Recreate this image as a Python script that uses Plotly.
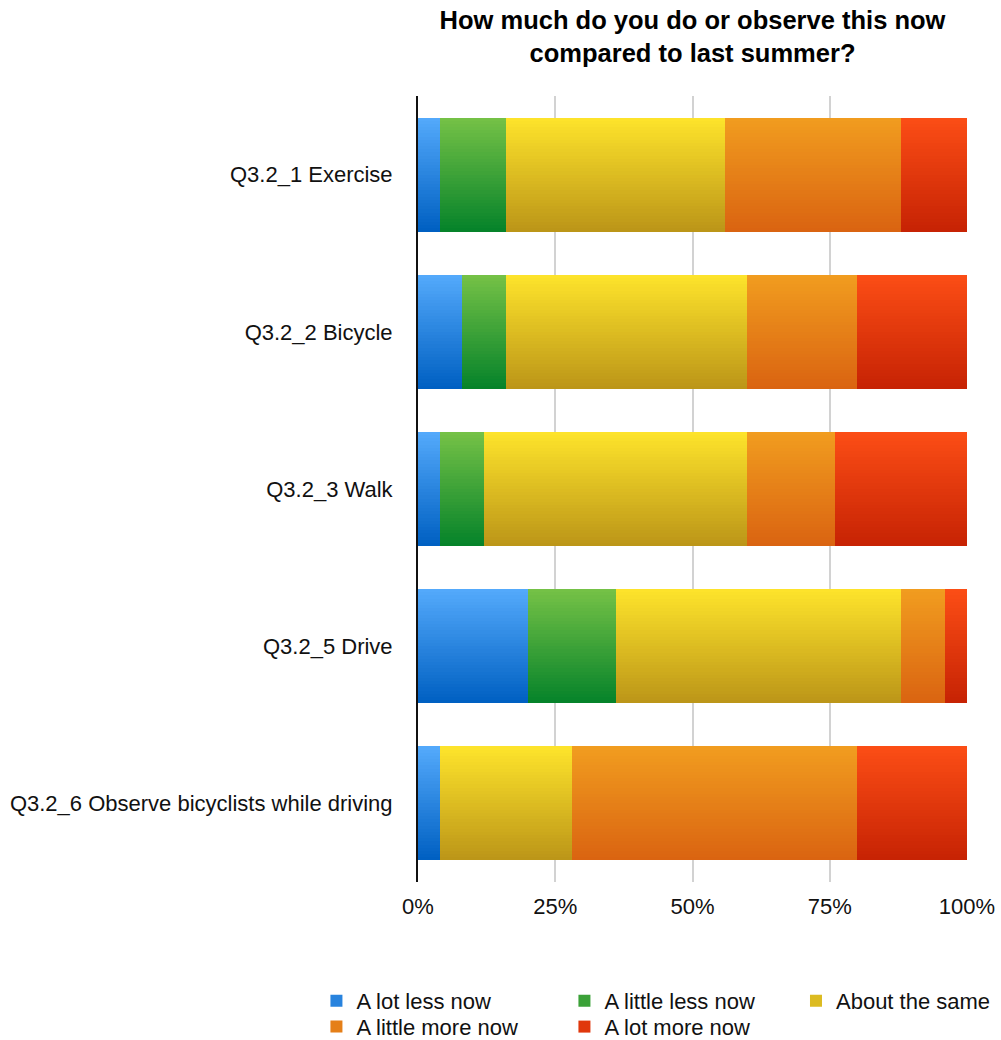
import numpy as np
import plotly.graph_objects as go

# Survey items and response shares (percent of respondents)
categories = [
    "Q3.2_1 Exercise",
    "Q3.2_2 Bicycle",
    "Q3.2_3 Walk",
    "Q3.2_5 Drive",
    "Q3.2_6 Observe bicyclists while driving",
]
series_names = [
    "A lot less now",
    "A little less now",
    "About the same",
    "A little more now",
    "A lot more now",
]
a_lot_less = [4, 8, 4, 20, 4]
a_little_less = [12, 8, 8, 16, 0]
about_same = [40, 44, 48, 52, 24]
a_little_more = [32, 20, 16, 8, 52]
a_lot_more = [12, 20, 24, 4, 20]

x_tick_values = [0, 25, 50, 75, 100]
x_tick_labels = ["0%", "25%", "50%", "75%", "100%"]

# Vertical gradient per series: (top colour, bottom colour)
gradients = [
    ("#53a9fb", "#0060c2"),
    ("#74c146", "#06832a"),
    ("#fde32b", "#bc9618"),
    ("#f19c1f", "#da6411"),
    ("#fb4d15", "#c72304"),
]

# Legend layout: two columns on two rows, plus a third column holding one entry
legend_of_series = ["legend", "legend", "legend3", "legend2", "legend2"]

FONT = "Liberation Sans, Arial, Helvetica, sans-serif"
BAR_W = 0.726   # bar thickness in category units
N_BANDS = 36    # number of colour bands used to shade each bar


def hex_to_rgb(h):
    h = h.lstrip("#")
    return np.array([int(h[i:i + 2], 16) for i in (0, 2, 4)], dtype=float)


def mix(c0, c1, t):
    c = hex_to_rgb(c0) * (1 - t) + hex_to_rgb(c1) * t
    return "rgb(%d,%d,%d)" % tuple(np.round(c).astype(int))


values = np.array([a_lot_less, a_little_less, about_same, a_little_more, a_lot_more], dtype=float)
bases = np.vstack([np.zeros(len(categories)), np.cumsum(values, axis=0)[:-1]])

fig = go.Figure()
for s, name in enumerate(series_names):
    top, bottom = gradients[s]
    for k in range(N_BANDS):
        t = k / (N_BANDS - 1)
        step = BAR_W / N_BANDS
        legend_band = k == N_BANDS // 2
        fig.add_trace(go.Bar(
            y=categories,
            x=values[s],
            base=bases[s],
            orientation="h",
            offset=-BAR_W / 2 + k * step,
            width=BAR_W - k * step,
            marker=dict(color=mix(top, bottom, t), line=dict(width=0)),
            name=name,
            legendgroup=name,
            showlegend=legend_band,
            legend=legend_of_series[s],
            hoverinfo="skip",
        ))

legend_font = dict(family=FONT, size=22, color="#111111")
legend_common = dict(
    orientation="h",
    xref="paper", yref="paper",
    xanchor="left", yanchor="top",
    font=legend_font,
    bgcolor="rgba(0,0,0,0)",
    traceorder="normal",
    itemclick=False,
)
ROW1_Y = -0.1245
ROW2_Y = -0.1575

fig.update_layout(
    width=1001,
    height=1040,
    margin=dict(l=418, r=34, t=96, b=158, autoexpand=False),
    paper_bgcolor="white",
    plot_bgcolor="white",
    barmode="overlay",
    bargap=0,
    font=dict(family=FONT, size=22, color="#111111"),
    title=dict(
        text="How much do you do or observe this now<br>compared to last summer?",
        font=dict(family=FONT, size=25.5, color="#000000", weight="bold"),
        xref="paper", x=0.5, xanchor="center",
        yref="container", y=0.9725, yanchor="top",
    ),
    xaxis=dict(
        range=[0, 100],
        tickvals=x_tick_values,
        ticktext=x_tick_labels,
        showgrid=True,
        gridcolor="#d2d2d2",
        gridwidth=1.5,
        zeroline=False,
        showline=False,
        ticks="",
        ticklabelstandoff=9,
        tickfont=dict(family=FONT, size=22, color="#111111"),
        fixedrange=True,
    ),
    yaxis=dict(
        categoryorder="array",
        categoryarray=categories,
        range=[4.5, -0.5],
        showgrid=False,
        zeroline=False,
        showline=True,
        linecolor="#111111",
        linewidth=2,
        ticks="",
        ticklabelstandoff=19,
        tickfont=dict(family=FONT, size=22, color="#111111"),
        fixedrange=True,
    ),
    legend=dict(legend_common, x=-0.185, y=ROW1_Y, entrywidth=203, entrywidthmode="pixels"),
    legend2=dict(legend_common, x=-0.185, y=ROW2_Y, entrywidth=203, entrywidthmode="pixels"),
    legend3=dict(legend_common, x=0.6885, y=ROW1_Y),
)

fig.write_html("out.html")
